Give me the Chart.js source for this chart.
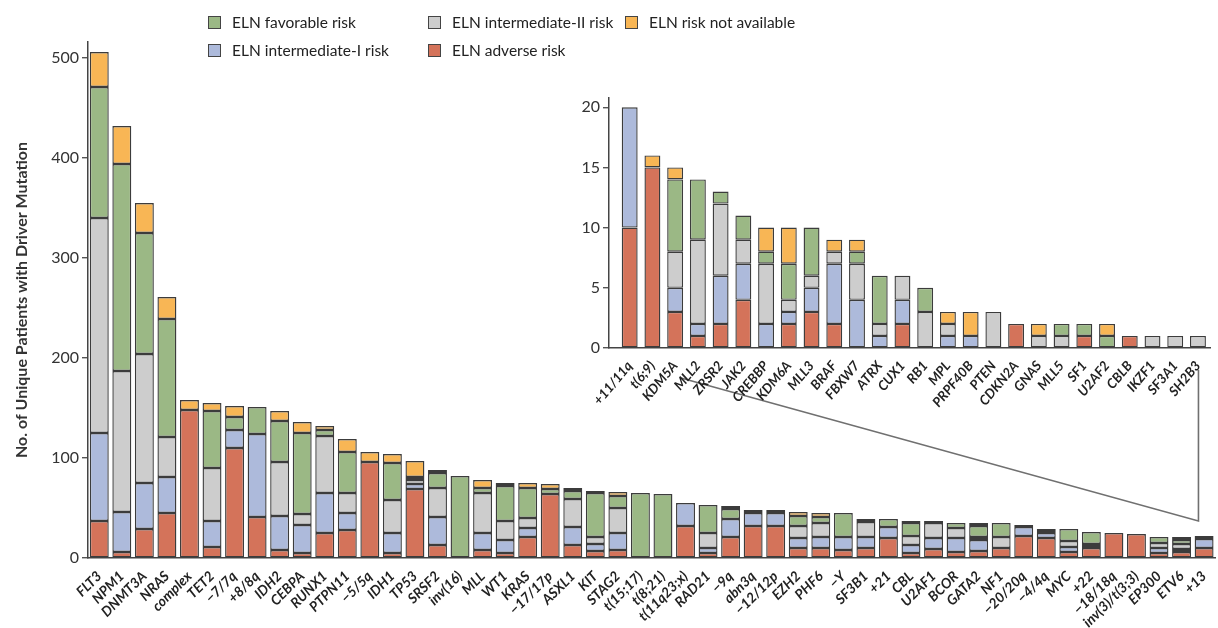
<!DOCTYPE html>
<html>
<head>
<meta charset="utf-8">
<script src="https://cdn.jsdelivr.net/npm/chart.js@4.4.1/dist/chart.umd.min.js"></script>
<style>
  html, body { margin: 0; padding: 0; background: #fff; }
  #wrap { position: relative; width: 1218px; height: 628px; font-family: Lato, "Open Sans", sans-serif; }
  #main { position: absolute; left: 0; top: 0; }
  #inset { position: absolute; left: 560px; top: 85px; }
  #legend { position: absolute; left: 208px; top: 12px; display: grid; grid-template-columns: 220px 197px auto; row-gap: 8px; font-size: 15.5px; color: #222; }
  .item { display: flex; align-items: center; height: 20px; white-space: nowrap; }
  .swatch { width: 13px; height: 13px; border: 1.5px solid #444; margin-right: 11px; box-sizing: border-box; }
</style>
</head>
<body>
<div id="wrap">
  <canvas id="main" width="1218" height="628"></canvas>
  <canvas id="inset" width="658" height="340"></canvas>
  <div id="legend"></div>
</div>
<script>
// main chart: stacks from bottom to top = adverse, intermediate-I, intermediate-II, favorable, not available
const categories = ['FLT3', 'NPM1', 'DNMT3A', 'NRAS', 'complex', 'TET2', '\u22127/7q', '+8/8q', 'IDH2', 'CEBPA',
  'RUNX1', 'PTPN11', '\u22125/5q', 'IDH1', 'TP53', 'SRSF2', 'inv(16)', 'MLL', 'WT1', 'KRAS',
  '\u221217/17p', 'ASXL1', 'KIT', 'STAG2', 't(15;17)', 't(8;21)', 't(11q23;x)', 'RAD21', '\u22129q', 'abn3q',
  '\u221212/12p', 'EZH2', 'PHF6', '\u2212Y', 'SF3B1', '+21', 'CBL', 'U2AF1', 'BCOR', 'GATA2',
  'NF1', '\u221220/20q', '\u22124/4q', 'MYC', '+22', '\u221218/18q', 'inv(3)/t(3;3)', 'EP300', 'ETV6', '+13'];

const adverse = [37, 6, 29, 45, 148, 11, 110, 41, 8, 5,
  25, 28, 96, 5, 69, 13, 0, 8, 5, 21,
  64, 13, 7, 8, 0, 0, 32, 5, 21, 32,
  32, 10, 10, 8, 10, 20, 5, 9, 6, 7,
  10, 22, 20, 6, 10, 25, 24, 5, 6, 10];
const intermediateI = [88, 40, 46, 36, 0, 26, 18, 83, 34, 28,
  40, 17, 0, 20, 5, 28, 0, 17, 13, 9,
  0, 18, 7, 17, 0, 0, 23, 5, 18, 13,
  13, 10, 11, 13, 11, 11, 8, 11, 14, 11,
  0, 9, 5, 5, 2, 0, 0, 5, 3, 9];
const intermediateII = [215, 141, 129, 40, 0, 53, 0, 0, 54, 11,
  57, 20, 0, 33, 4, 29, 0, 40, 19, 10,
  0, 28, 7, 25, 0, 0, 0, 15, 0, 0,
  0, 12, 14, 0, 15, 0, 9, 15, 10, 3,
  11, 2, 1, 6, 2, 0, 0, 5, 5, 2];
const favorable = [131, 207, 121, 118, 0, 57, 13, 27, 41, 81,
  6, 41, 0, 37, 3, 15, 82, 5, 35, 30,
  5, 8, 44, 12, 65, 64, 0, 28, 10, 0,
  0, 10, 6, 24, 0, 8, 13, 0, 5, 11,
  14, 0, 3, 12, 12, 0, 0, 6, 4, 1];
const notAvailable = [35, 38, 30, 22, 10, 8, 11, 0, 10, 11,
  4, 13, 10, 9, 16, 3, 0, 8, 3, 5,
  5, 3, 2, 4, 0, 0, 0, 0, 3, 3,
  3, 4, 4, 0, 3, 0, 2, 2, 0, 3,
  0, 0, 0, 0, 0, 0, 0, 0, 3, 0];

// inset: low-frequency drivers
const insetCategories = ['+11/11q', 't(6;9)', 'KDM5A', 'MLL2', 'ZRSR2', 'JAK2', 'CREBBP', 'KDM6A', 'MLL3', 'BRAF',
  'FBXW7', 'ATRX', 'CUX1', 'RB1', 'MPL', 'PRPF40B', 'PTEN', 'CDKN2A', 'GNAS', 'MLL5',
  'SF1', 'U2AF2', 'CBLB', 'IKZF1', 'SF3A1', 'SH2B3'];
const insetAdverse = [10, 15, 3, 1, 2, 4, 0, 2, 3, 2, 0, 0, 2, 0, 0, 0, 0, 2, 0, 0, 1, 0, 1, 0, 0, 0];
const insetIntermediateI = [10, 0, 2, 1, 4, 3, 2, 1, 2, 5, 4, 1, 2, 0, 1, 1, 0, 0, 0, 0, 0, 0, 0, 0, 0, 0];
const insetIntermediateII = [0, 0, 3, 7, 6, 2, 5, 1, 1, 1, 3, 1, 2, 3, 1, 0, 3, 0, 1, 1, 0, 0, 0, 1, 1, 1];
const insetFavorable = [0, 0, 6, 5, 1, 2, 1, 3, 4, 0, 1, 4, 0, 2, 0, 0, 0, 0, 0, 1, 1, 1, 0, 0, 0, 0];
const insetNotAvailable = [0, 1, 1, 0, 0, 0, 2, 3, 0, 1, 1, 0, 0, 0, 1, 2, 0, 0, 1, 0, 0, 1, 0, 0, 0, 0];

const yTicks = [0, 100, 200, 300, 400, 500];
const insetYTicks = [0, 5, 10, 15, 20];

const seriesNames = ['ELN adverse risk', 'ELN intermediate-I risk', 'ELN intermediate-II risk', 'ELN favorable risk', 'ELN risk not available'];
const seriesColors = ['#d4735a', '#adbadb', '#cdcdcd', '#9bb885', '#f8b655'];
const legendOrder = [3, 2, 4, 1, 0];

const FONT = 'Lato, "Open Sans", sans-serif';
Chart.defaults.font.family = FONT;

function buildSets(lists, withX) {
  return lists.map((values, k) => ({
    label: seriesNames[k],
    data: values.map((v, i) => withX ? { x: i, y: v || null } : (v || null)),
    backgroundColor: seriesColors[k],
    borderColor: '#3c3c3c',
    borderWidth: 1.4,
    borderSkipped: false
  }));
}

const calloutPlugin = {
  id: 'callout',
  afterDraw(chart) {
    const xs = chart.scales.x, ys = chart.scales.y, ctx = chart.ctx;
    ctx.save();
    ctx.strokeStyle = '#707070';
    ctx.lineWidth = 1.6;
    ctx.beginPath();
    ctx.moveTo(xs.getPixelForValue(25.8), ys.getPixelForValue(180));
    ctx.lineTo(xs.getPixelForValue(48.75), ys.getPixelForValue(37));
    ctx.lineTo(xs.getPixelForValue(48.75), ys.getPixelForValue(188));
    ctx.stroke();
    ctx.restore();
  }
};

new Chart(document.getElementById('main'), {
  type: 'bar',
  data: {
    labels: categories,
    datasets: buildSets([adverse, intermediateI, intermediateII, favorable, notAvailable], false)
  },
  options: {
    responsive: false,
    animation: false,
    layout: { padding: { top: 42, right: 2, bottom: 0, left: 0 } },
    categoryPercentage: 1,
    barPercentage: 0.84,
    plugins: { legend: { display: false }, tooltip: { enabled: false } },
    scales: {
      x: {
        stacked: true,
        grid: { display: false },
        border: { display: true, color: '#444', width: 1.5 },
        ticks: {
          autoSkip: false, maxRotation: 45, minRotation: 45, padding: 2,
          color: '#222', font: { size: 14, weight: 'bold', style: 'italic' }
        },
        afterFit: s => { s.height = 70; }
      },
      y: {
        stacked: true,
        min: 0,
        max: 516,
        afterBuildTicks: s => { s.ticks = yTicks.map(v => ({ value: v })); },
        grid: { display: true, drawOnChartArea: false, drawTicks: true, tickLength: 6, color: '#555', lineWidth: 1.4 },
        border: { display: true, color: '#444', width: 1.5 },
        ticks: { color: '#333', padding: 3, font: { size: 16 } },
        title: {
          display: true, text: 'No. of Unique Patients with Driver Mutation',
          color: '#333', font: { size: 16, weight: 'bold' }, padding: { top: 12, bottom: 0 }
        },
        afterFit: s => { s.width = 88; }
      }
    }
  },
  plugins: [calloutPlugin]
});

new Chart(document.getElementById('inset'), {
  type: 'bar',
  data: {
    datasets: buildSets([insetAdverse, insetIntermediateI, insetIntermediateII, insetFavorable, insetNotAvailable], true)
  },
  options: {
    responsive: false,
    animation: false,
    layout: { padding: { top: 10, right: 8, bottom: 0, left: 0 } },
    categoryPercentage: 1,
    barPercentage: 0.7,
    plugins: { legend: { display: false }, tooltip: { enabled: false } },
    scales: {
      x: {
        type: 'linear',
        stacked: true,
        min: -0.91,
        max: 25.53,
        offset: false,
        afterBuildTicks: s => { s.ticks = insetCategories.map((_, i) => ({ value: i })); },
        grid: { display: false },
        border: { display: true, color: '#444', width: 1.5 },
        ticks: {
          autoSkip: false, maxRotation: 50, minRotation: 50, padding: 2,
          color: '#222', font: { size: 13.5, weight: 'bold', style: 'italic' },
          callback: v => insetCategories[v] ?? ''
        },
        afterFit: s => { s.height = 77; }
      },
      y: {
        stacked: true,
        min: 0,
        max: 20.8,
        afterBuildTicks: s => { s.ticks = insetYTicks.map(v => ({ value: v })); },
        grid: { display: true, drawOnChartArea: false, drawTicks: true, tickLength: 6, color: '#555', lineWidth: 1.4 },
        border: { display: true, color: '#444', width: 1.5 },
        ticks: { color: '#333', padding: 3, font: { size: 16 } },
        afterFit: s => { s.width = 49; }
      }
    }
  }
});

document.getElementById('legend').innerHTML = legendOrder.map(k => `
  <div class="item"><span class="swatch" style="background:${seriesColors[k]}"></span>${seriesNames[k]}</div>
`).join('');
</script>
</body>
</html>
